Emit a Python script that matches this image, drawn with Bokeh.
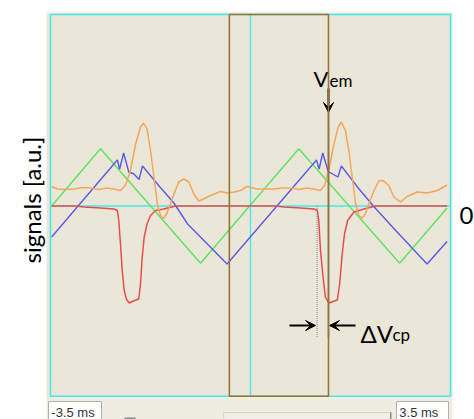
import math
from bokeh.plotting import figure
from bokeh.models import Label, BoxAnnotation, Arrow, VeeHead, Range1d
from bokeh.embed import file_html
from bokeh.resources import INLINE

# ---- data (time in ms, signals in a.u.) ----
window_ms = [-3.5, 3.5]
window_labels = ["-3.5 ms", "3.5 ms"]
cursor_ms = [-0.37, 1.365]
ref_ms = 1.165

green_t = [-3.48, -2.625, -0.875, 0.845, 2.61, 3.44]
green_v = [0.0, 0.572, -0.572, 0.572, -0.572, -0.02]

blue_t = [-3.48, -2.33, -2.29, -2.22, -2.13, -2.04, -1.95, -1.89, -1.60, -1.34, -1.10,
          -0.41, 1.155, 1.20, 1.265, 1.36, 1.53, 1.59, 1.90, 2.15, 2.50, 3.09, 3.44]
blue_v = [-0.31, 0.46, 0.37, 0.53, 0.34, 0.32, 0.265, 0.40, 0.20, 0.03, -0.18,
          -0.58, 0.46, 0.37, 0.53, 0.345, 0.29, 0.40, 0.17, 0.0, -0.22, -0.58, -0.355]

orange_t = [-3.48, -3.38, -3.24, -3.09, -2.94, -2.80, -2.66, -2.51, -2.40, -2.275,
            -2.19, -2.10, -2.01, -1.925, -1.87, -1.81, -1.75, -1.69, -1.63, -1.575,
            -1.52, -1.47, -1.40, -1.34, -1.255, -1.17, -1.08, -0.99, -0.905, -0.82,
            -0.70, -0.525, -0.41, -0.29, -0.175, -0.06, 0.115, 0.26, 0.41, 0.56,
            0.70, 0.84, 0.99, 1.10, 1.225, 1.295, 1.37, 1.46, 1.535, 1.59,
            1.66, 1.72, 1.78, 1.84, 1.895, 1.955, 2.01, 2.07, 2.15, 2.245,
            2.32, 2.42, 2.51, 2.625, 2.74, 2.92, 3.09, 3.27, 3.44]
orange_v = [0.195, 0.17, 0.165, 0.17, 0.185, 0.18, 0.165, 0.18, 0.17, 0.155,
            0.205, 0.355, 0.62, 0.79, 0.83, 0.77, 0.555, 0.29, 0.02, -0.095,
            -0.125, -0.08, 0.02, 0.12, 0.24, 0.27, 0.24, 0.12, 0.05, 0.07,
            0.105, 0.145, 0.13, 0.14, 0.155, 0.195, 0.17, 0.17, 0.17, 0.18,
            0.18, 0.165, 0.18, 0.17, 0.155, 0.205, 0.355, 0.62, 0.79, 0.84,
            0.755, 0.555, 0.29, 0.02, -0.095, -0.12, -0.08, 0.02, 0.14, 0.25,
            0.255, 0.205, 0.09, 0.04, 0.095, 0.14, 0.13, 0.155, 0.21]

red_t = [-3.48, -3.06, -2.92, -2.625, -2.39, -2.33, -2.305, -2.275, -2.245, -2.21,
         -2.17, -2.12, -2.07, -1.955, -1.925, -1.895, -1.86, -1.81, -1.75, -1.66,
         -1.52, -1.31, 0.455, 0.58, 0.875, 1.11, 1.17, 1.195, 1.225, 1.27,
         1.31, 1.37, 1.52, 1.56, 1.605, 1.645, 1.70, 1.81, 1.985, 2.19, 3.44]
red_v = [0.0, 0.0, -0.01, -0.02, -0.03, -0.045, -0.145, -0.38, -0.645, -0.845,
         -0.935, -0.97, -0.955, -0.93, -0.78, -0.51, -0.31, -0.18, -0.095, -0.045,
         -0.03, 0.0, 0.0, -0.01, -0.02, -0.03, -0.045, -0.145, -0.445, -0.71,
         -0.91, -0.97, -0.94, -0.78, -0.48, -0.28, -0.145, -0.06, -0.03, 0.0, 0.0]

# ---- figure ----
FONT = "Lato"
p = figure(width=474, height=419, output_backend="svg", toolbar_location=None,
           x_range=Range1d(-4.375, 3.92), y_range=Range1d(-2.135, 2.055),
           min_border=0)
p.axis.visible = False
p.grid.visible = False
p.outline_line_color = None
p.background_fill_color = "white"
p.border_fill_color = "white"

def box(l, r, t, b, fill=None, line=None, lw=1.0, level="underlay"):
    p.add_layout(BoxAnnotation(left=l, right=r, top=t, bottom=b,
                               fill_color=fill or "white", fill_alpha=1.0 if fill else 0.0,
                               line_color=line, line_alpha=1.0, line_width=lw, level=level))

# panel backgrounds
box(-3.57, 3.535, 1.935, -1.915, fill="#EBE7D8")
box(-3.57, 3.535, -1.915, -2.3, fill="#EFECE2")
box(-0.47, 2.465, -2.065, -2.4, fill="#F1EFE7", line="#D9D5C9")
box(2.44, 2.465, -2.065, -2.4, fill="#8E8E8E")
box(-2.205, -2.0125, -2.115, -2.4, fill="#8C8C8C")

CYAN = "#45E9EC"
BROWN = "#957436"
# cyan window frame
box(window_ms[0], window_ms[1], 1.915, -1.902, line=CYAN, lw=1.6)
p.line(window_ms, [0, 0], line_color=CYAN, line_width=1.4)
p.line([0, 0], [1.915, -1.902], line_color=CYAN, line_width=1.4)

# signals
p.line(green_t, green_v, line_color="#5EE35E", line_width=1.4)
p.line(blue_t, blue_v, line_color="#5A5AE8", line_width=1.4)
p.line(red_t, red_v, line_color="#EE4A4A", line_width=1.5)
p.line(orange_t, orange_v, line_color="#F6A65C", line_width=1.5)

# brown cursor box
box(cursor_ms[0], cursor_ms[1], 1.915, -1.902, line=BROWN, lw=1.6, level="overlay")
p.line([cursor_ms[1], cursor_ms[1]], [0.935, -1.315], line_color="#2B2B2B",
       line_width=1.6, line_dash="1 1")
p.line([ref_ms, ref_ms], [0.0, -1.315], line_color="#808080", line_width=1.0, line_dash="1 1")

# arrows
head = dict(size=10, fill_color="black", line_color="black")
p.add_layout(Arrow(end=VeeHead(**head), x_start=cursor_ms[1], y_start=1.175,
                   x_end=cursor_ms[1], y_end=0.935, line_width=2, line_color="black"))
p.add_layout(Arrow(end=VeeHead(**head), x_start=0.6825, y_start=-1.195,
                   x_end=1.1375, y_end=-1.195, line_width=2, line_color="black"))
p.add_layout(Arrow(end=VeeHead(**head), x_start=1.8375, y_start=-1.195,
                   x_end=1.3825, y_end=-1.195, line_width=2, line_color="black"))

def lab(x, y, t, size, **kw):
    p.add_layout(Label(x=x, y=y, text=t, text_font=FONT, text_font_size=f"{size}px",
                       text_color="black", text_baseline="alphabetic", **kw))

lab(1.1025, 1.275, "V", 22)
lab(1.3825, 1.255, "em", 17)
lab(1.925, -1.275, "\u0394V", 24)
lab(2.485, -1.285, "cp", 17)
lab(3.6575, -0.095, "0", 24)
lab(-3.8325, 0.06, "signals [a.u.]", 24, angle=math.pi / 2, text_align="center")

# range boxes at the bottom
for xl, xr, t in [(-3.535, -2.6075, window_labels[0]), (2.555, 3.465, window_labels[1])]:
    box(xl, xr, -1.955, -2.3, fill="white", line="#B0B0B0", level="annotation")
    p.add_layout(Label(x=xl + 0.05, y=-2.065, text=t, text_font="Liberation Sans",
                       text_font_size="13px", text_color="#333333", text_baseline="alphabetic"))

open("out.html", "w").write(file_html(p, INLINE))
